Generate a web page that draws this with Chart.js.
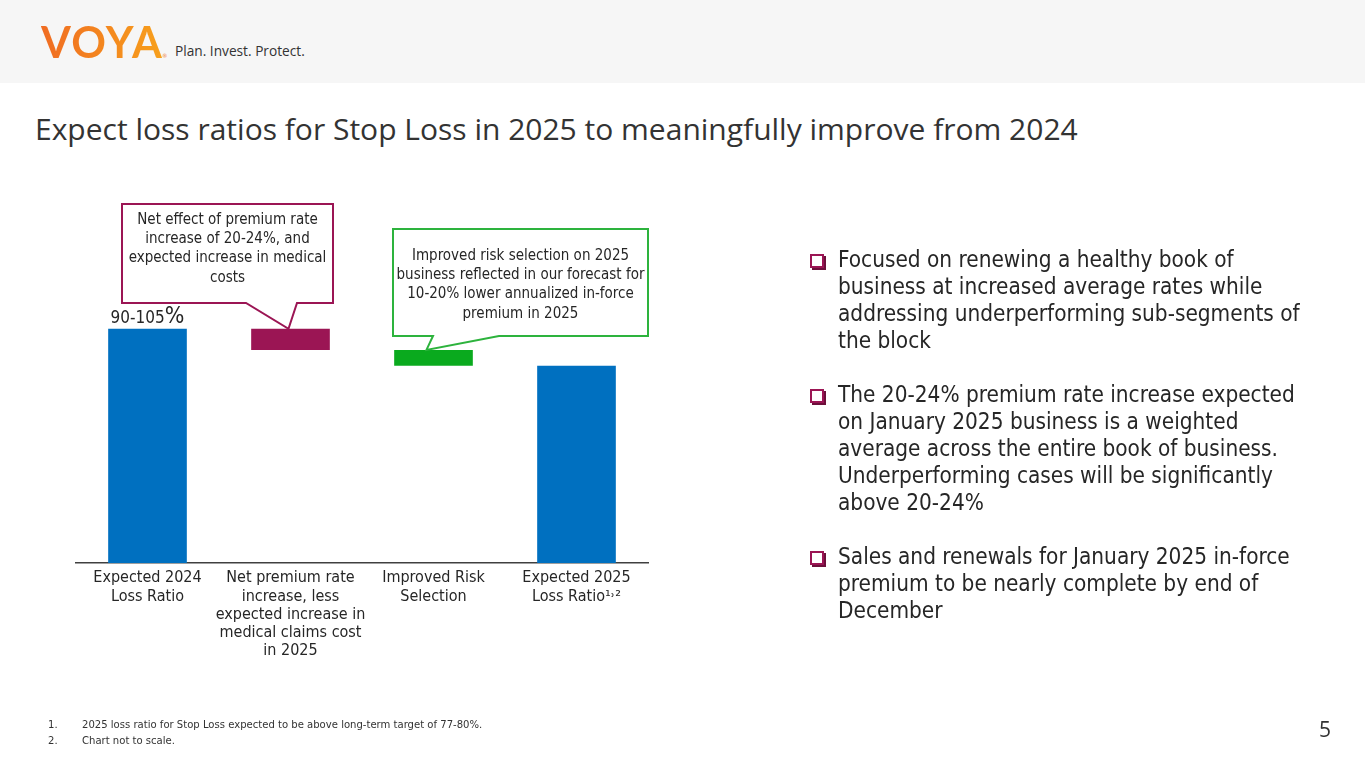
<!DOCTYPE html>
<html>
<head>
<meta charset="utf-8">
<script src="https://cdn.jsdelivr.net/npm/chart.js@4/dist/chart.umd.min.js"></script>
<style>
  body { margin: 0; width: 1365px; height: 768px; background: #fff; position: relative; overflow: hidden; font-family: "DejaVu Sans Condensed", "DejaVu Sans", sans-serif; color: #262626; }
  .header { position: absolute; left: 0; top: 0; width: 1365px; height: 83px; background: #f6f6f6; }
  .logo { position: absolute; left: 41px; top: 16px; font-family: "Lato", sans-serif; font-size: 43px; font-weight: 700; letter-spacing: 1.5px;
    background: linear-gradient(90deg, #f06c22, #f7a01c); -webkit-background-clip: text; background-clip: text; color: transparent; }
  .reg { position: absolute; left: 162px; top: 52px; font-size: 6px; color: #f08030; }
  .tagline { position: absolute; left: 175px; top: 41px; font-family: "Open Sans", sans-serif; font-size: 13.7px; color: #333; }
  .title { position: absolute; left: 35px; top: 108px; font-family: "Open Sans", sans-serif; font-size: 30px; color: #333; white-space: nowrap; }
  .bullets { position: absolute; left: 838px; top: 246px; font-size: 22.4px; line-height: 27px; white-space: nowrap; color: #262626; }
  .bullet { position: relative; margin-bottom: 27px; }
  .bullet::before { content: ""; position: absolute; left: -28px; top: 8px; width: 10px; height: 10px; border: 2px solid #9b1554; box-shadow: 2px 2px 0 #6d0f3b; background: #fff; }
  .foot { position: absolute; left: 48px; font-size: 11.2px; color: #333; }
  .foot span { position: absolute; left: 34px; white-space: nowrap; }
  .page { position: absolute; left: 1319px; top: 715px; font-family: "Open Sans", sans-serif; font-size: 21px; color: #333; }
  #chart { position: absolute; left: 0; top: 0; }
</style>
</head>
<body>
<div class="header"></div>
<div class="logo">VOYA</div>
<div class="reg">®</div>
<div class="tagline">Plan. Invest. Protect.</div>
<div class="title">Expect loss ratios for Stop Loss in 2025 to meaningfully improve from 2024</div>

<canvas id="chart" width="1365" height="768"></canvas>

<div class="bullets">
  <div class="bullet">Focused on renewing a healthy book of<br>business at increased average rates while<br>addressing underperforming sub-segments of<br>the block</div>
  <div class="bullet">The 20-24% premium rate increase expected<br>on January 2025 business is a weighted<br>average across the entire book of business.<br>Underperforming cases will be significantly<br>above 20-24%</div>
  <div class="bullet">Sales and renewals for January 2025 in-force<br>premium to be nearly complete by end of<br>December</div>
</div>

<div class="foot" style="top:718px">1.<span>2025 loss ratio for Stop Loss expected to be above long-term target of 77-80%.</span></div>
<div class="foot" style="top:734px">2.<span>Chart not to scale.</span></div>
<div class="page">5</div>

<script>
const categories = [
  ['Expected 2024', 'Loss Ratio'],
  ['Net premium rate', 'increase, less', 'expected increase in', 'medical claims cost', 'in 2025'],
  ['Improved Risk', 'Selection'],
  ['Expected 2025', 'Loss Ratio\u00b9\u02d2\u00b2']
]
const barStart = [0, 91, 84.2, 0]
const barEnd = [100, 100, 91, 84.2]
const barColors = ['#0070c0', '#9b1554', '#0aaa1e', '#0070c0']
const topLabel = ['90-105', '%']

const callouts = [
  { bar: 1, color: '#9b1554', box: [122, 204, 333, 303], base: [246, 297], tipDx: -2,
    lines: ['Net effect of premium rate', 'increase of 20-24%, and', 'expected increase in medical', 'costs'], y0: 220 },
  { bar: 2, color: '#2db33d', box: [393, 229, 648, 336], base: [433, 499], tipDx: -7,
    lines: ['Improved risk selection on 2025', 'business reflected in our forecast for', '10-20% lower annualized in-force', 'premium in 2025'], y0: 256 }
]

const annotations = {
  id: 'annotations',
  afterDatasetsDraw(chart) {
    const ctx = chart.ctx
    const bars = chart.getDatasetMeta(0).data
    ctx.save()
    // value label above first bar
    const b0 = bars[0]
    ctx.textBaseline = 'alphabetic'
    ctx.fillStyle = '#262626'
    ctx.font = '17px "DejaVu Sans Condensed"'
    const w1 = ctx.measureText(topLabel[0]).width
    ctx.font = '23px "DejaVu Sans Condensed"'
    const w2 = ctx.measureText(topLabel[1]).width
    const sx = b0.x - (w1 + w2) / 2
    ctx.font = '17px "DejaVu Sans Condensed"'
    ctx.fillText(topLabel[0], sx, b0.y - 6)
    ctx.font = '23px "DejaVu Sans Condensed"'
    ctx.fillText(topLabel[1], sx + w1, b0.y - 6)

    // callouts
    callouts.forEach(c => {
      const bar = bars[c.bar]
      const [l, t, r, btm] = c.box
      const tx = bar.x + c.tipDx
      const ty = bar.y
      ctx.beginPath()
      ctx.moveTo(l, t)
      ctx.lineTo(r, t)
      ctx.lineTo(r, btm)
      ctx.lineTo(c.base[1], btm)
      ctx.lineTo(tx, ty)
      ctx.lineTo(c.base[0], btm)
      ctx.lineTo(l, btm)
      ctx.closePath()
      ctx.fillStyle = '#fff'
      ctx.fill()
      ctx.lineWidth = 2
      ctx.strokeStyle = c.color
      ctx.stroke()
      ctx.fillStyle = '#262626'
      ctx.font = '15px "DejaVu Sans Condensed"'
      ctx.textAlign = 'center'
      ctx.textBaseline = 'middle'
      c.lines.forEach((s, i) => ctx.fillText(s, (l + r) / 2, c.y0 + i * 19.3))
      ctx.textAlign = 'left'
      ctx.textBaseline = 'alphabetic'
    })
    ctx.restore()
  }
}

new Chart(document.getElementById('chart'), {
  type: 'bar',
  data: {
    labels: categories,
    datasets: [{
      data: barStart.map((s, i) => [s, barEnd[i]]),
      backgroundColor: barColors,
      borderWidth: 0,
      barPercentage: 0.55,
      categoryPercentage: 1.0
    }]
  },
  options: {
    responsive: false,
    animation: false,
    devicePixelRatio: 1,
    layout: { padding: { left: 76, right: 717, top: 200, bottom: 105 } },
    plugins: { legend: { display: false }, tooltip: { enabled: false } },
    scales: {
      x: {
        grid: { display: false, drawTicks: false },
        border: { display: true, color: '#404040', width: 1.5 },
        ticks: { color: '#262626', font: { family: 'DejaVu Sans Condensed', size: 16, lineHeight: 1.14 }, padding: 6, maxRotation: 0, autoSkip: false },
        afterFit: s => { s.height = 100 }
      },
      y: { display: false, min: 0, max: 155 }
    }
  },
  plugins: [annotations]
})
</script>
</body>
</html>
